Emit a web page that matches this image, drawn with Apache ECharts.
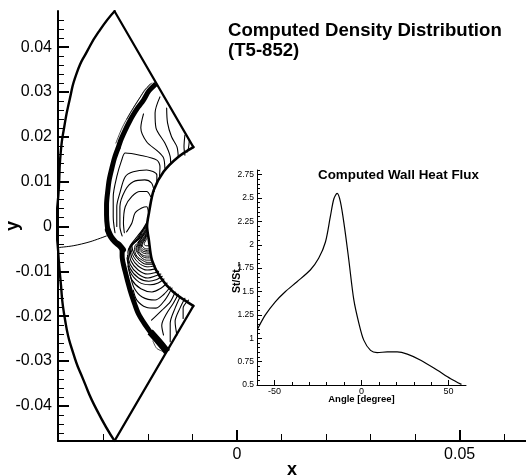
<!DOCTYPE html>
<html>
<head>
<meta charset="utf-8">
<style>html,body{margin:0;padding:0;background:#fff}#c{width:526px;height:476px}</style>
<script src="https://cdn.jsdelivr.net/npm/echarts@6/dist/echarts.min.js"></script>
</head>
<body>
<div id="c"></div>
<script>
// Density plot values are in thousandths of the x / y axis units.
const outerBoundary = [[-27.5,48],[-30.8,43.8],[-33.7,39],[-36,34.2],[-37.6,28.2],[-38.8,22.2],[-39.6,16.4],[-40,8.8],[-40.5,0],[-40.2,-5],[-39.7,-11.3],[-38.6,-20.9],[-36.8,-28.2],[-34.5,-34.2],[-31.5,-40.9],[-27.5,-47.8]];
const outletUpper = [[-27.5,48],[-9.8,17.7]];
const outletLower = [[-9.8,-17.7],[-27.5,-47.8]];
const wall = [[-9.8,17.7],[-13.2,15.5],[-16.5,12.2],[-18.7,8.1],[-19.8,2.9],[-20.2,0.1],[-19.8,-3],[-19.1,-7.5],[-17.3,-11.2],[-14.3,-14.6],[-9.8,-17.7]];
const shockUpper = [[-18.2,31.8],[-19.8,30.2],[-21,28.2],[-22.2,26.6],[-23.3,24.9],[-24.2,23.3],[-25.1,21.5],[-26,19.5],[-26.7,17.5]];
const shockMiddle = [[-26.7,17.5],[-27.5,15.3],[-28.1,13],[-28.7,10.4],[-29,8.1],[-29.3,4.8],[-29.3,2.6],[-29.1,-0.1],[-28.7,-1.7]];
const shockKink = [[-29,-0.8],[-28.3,-2.3],[-27.4,-3.4],[-26.3,-4.3],[-25.6,-5.2]];
const shockLower = [[-25.8,-5.2],[-25.8,-6.6],[-25.1,-10.1],[-24,-14.2],[-22.9,-17.5],[-22.2,-19.3],[-20.9,-21.5],[-19.5,-23.5]];
const shockEnd = [[-19.5,-23.5],[-17.7,-25.5],[-16.2,-27.3],[-15.7,-28]];
const shockFringe = [
  [[-19.1,32],[-20.7,30.5],[-21.8,28.7],[-24,25.3],[-25.8,22],[-27.2,18.6]],
  [[-19.5,31.8],[-21.1,29.8],[-22.9,27.1],[-24.7,24]],
  [[-18.9,-25.5],[-18,-27.2],[-16.2,-28]]
];
const streamLine = [[-40.2,-4.7],[-36.8,-4.3],[-33,-3.4],[-29.3,-2.1]];
const upperContours = [
  [[-15.8,26.4],[-15.6,23.1],[-14.7,20],[-13.5,17.8],[-13.2,15.7]],
  [[-17.3,28.9],[-18.4,25.3],[-18.2,22],[-16.2,18.6],[-15,15.6],[-14.9,14.2]],
  [[-21,25.1],[-21.6,22],[-20.3,18.9],[-17.7,16.7],[-16.5,15.3],[-16.2,13]],
  [[-11.7,20.4],[-11.9,17.8],[-11.7,15.9]],
  [[-10.7,19.3],[-10.9,17.5],[-11.2,16.6]],
  [[-27.4,-1.4],[-27.8,2.2],[-27.8,6.6],[-27,11.1],[-25.9,14.8],[-25.1,16.4],[-21.8,15.9],[-18,14.8],[-17.3,13.3],[-17.4,11.1]],
  [[-27,0],[-27,4.4],[-26.3,7.5],[-25.1,11.1],[-23.3,12.2],[-20.3,12.6],[-18,11.5],[-18,9.7]],
  [[-25.8,-2.1],[-26.3,0],[-26.3,4.4],[-25.1,8.1],[-23.3,10],[-20.7,10.4],[-19.2,9.7],[-18.6,7.8]],
  [[-25.3,-1.4],[-25.5,0.8],[-25.1,4.4],[-23.6,6.7],[-21.8,7.8],[-20.3,7.8],[-19.4,6.7]],
  [[-24.8,-1.2],[-23.6,0.8],[-22.9,3],[-21.4,4.1],[-20.3,4.4],[-19.9,3.2]]
];
const fanContours = [
  [[-20.2,-0.8],[-21.1,-2.1],[-22.2,-3.7],[-22.7,-5],[-21.8,-6.6],[-20.4,-7.5],[-19.1,-7.5]],
  [[-20.2,-1],[-21.2,-2.3],[-22.1,-3.8],[-22.5,-5],[-21.7,-6.3],[-20.4,-7],[-19.2,-7]],
  [[-20.2,-1.2],[-21.1,-2.6],[-22,-3.9],[-22.2,-5],[-21.6,-6.1],[-20.4,-6.6],[-19.3,-6.6]],
  [[-20.2,-1.45],[-21,-2.7],[-21.8,-3.9],[-22,-4.9],[-21.3,-5.8],[-20.3,-6.1],[-19.4,-6.1]],
  [[-20.2,-1.7],[-20.9,-2.8],[-21.6,-3.9],[-21.8,-4.8],[-21.1,-5.5],[-20.2,-5.7],[-19.5,-5.7]],
  [[-20.2,-1.9],[-20.8,-2.9],[-21.4,-4],[-21.5,-4.7],[-20.8,-5.2],[-20.2,-5.4],[-19.7,-5.4]],
  [[-20.2,-2.1],[-20.7,-3],[-21.3,-4.1],[-21.1,-4.6],[-20.4,-5],[-19.8,-5]],
  [[-20.2,-2.6],[-20.7,-3.5],[-20.9,-3.9],[-20.4,-4.3],[-19.8,-4.3]],
  [[-20.2,0],[-21.3,-1.6],[-22.4,-3.1],[-23.3,-3.9],[-23.8,-4.8],[-23.3,-6.6],[-22,-8.2],[-20.2,-9],[-18.4,-8.8]],
  [[-20.2,-0.6],[-21.1,-1.9],[-22.2,-3.5],[-22.9,-4.3],[-23,-5.2],[-22.5,-6.6],[-21.3,-7.5],[-20.2,-8],[-18.9,-8]]
];
const lowerContours = [
  [[-23.3,-14.2],[-22.5,-16.4],[-20.4,-18],[-18.2,-18.2],[-16.2,-16.4],[-14.6,-13.7]],
  [[-24,-10.8],[-23.1,-13.7],[-21.3,-15.7],[-18.4,-16.4],[-16.4,-15.1],[-15,-13.5]],
  [[-24.5,-8.8],[-23.6,-11.9],[-21.6,-13.9],[-19.1,-14.6],[-17.3,-13.9],[-15.7,-12.6]],
  [[-24.7,-7],[-24,-10.1],[-22,-12.4],[-19.5,-13],[-17.7,-12.6],[-16.4,-11.7]],
  [[-24.6,-6.4],[-24,-9.3],[-22.1,-11.5],[-19.8,-12.2],[-18,-11.8],[-16.8,-11.1]],
  [[-20.2,1],[-21.3,-0.8],[-22.7,-2.6],[-24,-4.3],[-24.5,-5.7],[-24,-8.4],[-22.2,-10.6],[-20,-11.5],[-18.2,-11],[-17.1,-10.6]],
  [[-20.2,0.7],[-21.3,-1],[-22.5,-2.8],[-23.8,-4.2],[-24.2,-5.2],[-23.8,-7.7],[-22.2,-9.7],[-20.1,-10.6],[-18.4,-10.3],[-17.6,-10]],
  [[-20.2,0.3],[-21.3,-1.2],[-22.4,-3],[-23.6,-4.1],[-24,-4.8],[-23.6,-7],[-22.2,-8.8],[-20.2,-9.7],[-18.6,-9.5],[-18.2,-9.3]],
  [[-20.2,-0.3],[-21.1,-1.7],[-22.2,-3],[-23.1,-3.7],[-23.6,-4.3],[-23.1,-6.1],[-22,-7.5],[-20.4,-8.4],[-18.9,-8.4]],
  [[-19.2,-20.9],[-16.9,-18.7],[-15,-16.8],[-13.9,-14.6]],
  [[-16.5,-24.2],[-16.9,-22],[-15.8,-19.4],[-14.3,-17.1],[-13.2,-15.1]],
  [[-15,-25.7],[-15,-21.6],[-13.9,-18.2],[-12.8,-15.7]],
  [[-13.5,-24.2],[-13.9,-21.2],[-12.8,-18.2],[-11.7,-16]],
  [[-12.1,-20.5],[-12.1,-18.2],[-10.9,-16.4]]
];
const heatFluxAngle = [-59.5,-55.3,-49.5,-43.8,-37,-29.4,-24.6,-20.7,-17.9,-15.9,-14,-12.1,-9.8,-7.3,-4.4,-1.5,1.3,5.2,9,14.8,20.5,26.3,34,43.6,51.2,57.4];
const heatFluxValue = [1.104,1.247,1.39,1.498,1.605,1.73,1.855,2.03,2.3,2.49,2.55,2.46,2.195,1.84,1.41,1.16,0.98,0.87,0.847,0.854,0.854,0.83,0.765,0.657,0.568,0.507];

const xMajorTicks = [0,0.05];
const xMinorTicks = [-0.03,-0.02,-0.01,0.01,0.02,0.03,0.04,0.06];
const yMajorTicks = [-0.04,-0.03,-0.02,-0.01,0,0.01,0.02,0.03,0.04];
const yMinorTicks = [-0.046,-0.044,-0.042,-0.038,-0.036,-0.034,-0.032,-0.028,-0.026,-0.024,-0.022,-0.018,-0.016,-0.014,-0.012,-0.008,-0.006,-0.004,-0.002,0.002,0.004,0.006,0.008,0.012,0.014,0.016,0.018,0.022,0.024,0.026,0.028,0.032,0.034,0.036,0.038,0.042,0.044,0.046];
const angleMajorTicks = [-50,0,50];
const angleMinorTicks = [-40,-30,-20,-10,10,20,30,40];
const ratioMajorTicks = [0.5,0.75,1,1.25,1.5,1.75,2,2.25,2.5,2.75];
const ratioMinorTicks = [0.55,0.6,0.65,0.7,0.8,0.85,0.9,0.95,1.05,1.1,1.15,1.2,1.3,1.35,1.4,1.45,1.55,1.6,1.65,1.7,1.8,1.85,1.9,1.95,2.05,2.1,2.15,2.2,2.3,2.35,2.4,2.45,2.55,2.6,2.65,2.7,2.8];

const FONT = '"Liberation Sans", Arial, sans-serif';
const X_RANGE = {min:-0.0402, max:0.0649};
const Y_RANGE = {min:-0.04783, max:0.04805};
const ANGLE_RANGE = {min:-60, max:60};
const RATIO_RANGE = {min:0.5, max:2.8};

const toUnits = pts => pts.map(p => [p[0]/1000, p[1]/1000]);
const densityLine = (pts, width, smooth, cap) => ({
  type:'line', xAxisIndex:0, yAxisIndex:0, data:toUnits(pts), showSymbol:false, silent:true,
  clip:true, smooth:smooth === undefined ? 0.3 : smooth,
  lineStyle:{color:'#000', width:width, cap:cap||'round', join:'round'}
});
const fmt = v => String(Math.round(v*1000)/1000);

const axisBase = (position, gridIndex, range, values, len, lineW, tickW, fontSize, margin, showLine) => ({
  type:'value', position, gridIndex, min:range.min, max:range.max, splitLine:{show:false},
  axisLine:{show:showLine, onZero:false, lineStyle:{color:'#000', width:lineW}},
  axisTick:{show:true, inside:true, length:len, customValues:values, lineStyle:{color:'#000', width:tickW}},
  axisLabel:{show:fontSize>0, customValues:values, margin, color:'#000', fontFamily:FONT, fontSize:fontSize||10, formatter:fmt, showMinLabel:true, showMaxLabel:true, hideOverlap:false},
  nameMoveOverlap:false
});

const option = {
  backgroundColor:'#fff', animation:false,
  title:[
    {text:'Computed Density Distribution\n(T5-852)', left:228, top:21, padding:0,
     textStyle:{fontFamily:FONT, fontWeight:'bold', fontSize:18.6, lineHeight:19.6, color:'#000'}},
    {text:'Computed Wall Heat Flux', left:318, top:169, padding:0,
     textStyle:{fontFamily:FONT, fontWeight:'bold', fontSize:13.4, color:'#000'}}
  ],
  grid:[
    {left:58, top:11, width:468, height:430, outerBoundsMode:'none', containLabel:false},
    {left:257, top:170, width:209, height:215, outerBoundsMode:'none', containLabel:false}
  ],
  xAxis:[
    Object.assign(axisBase('bottom',0, X_RANGE, xMajorTicks, 11, 2, 2, 16, 6, true), {name:'x', nameLocation:'middle', nameGap:20, nameTextStyle:{fontFamily:FONT, fontWeight:'bold', fontSize:18, color:'#000'}}),
    axisBase('bottom',0, X_RANGE, xMinorTicks, 7, 2, 1, 0, 0, false),
    Object.assign(axisBase('bottom',1, ANGLE_RANGE, angleMajorTicks, 5, 1, 1, 9, 2, true), {name:'Angle [degree]', nameLocation:'middle', nameGap:9, nameTextStyle:{fontFamily:FONT, fontWeight:'bold', fontSize:9.5, color:'#000'}}),
    axisBase('bottom',1, ANGLE_RANGE, angleMinorTicks, 3, 1, 1, 0, 0, false)
  ],
  yAxis:[
    Object.assign(axisBase('left',0, Y_RANGE, yMajorTicks, 11, 2, 2, 16, 6, true), {name:'y', nameLocation:'middle', nameGap:36, nameTextStyle:{fontFamily:FONT, fontWeight:'bold', fontSize:18, color:'#000'}}),
    axisBase('left',0, Y_RANGE, yMinorTicks, 6, 2, 1, 0, 0, false),
    Object.assign(axisBase('left',1, RATIO_RANGE, ratioMajorTicks, 5, 1, 1, 8.5, 3, true), {name:'{a|St/St}{b|-\u221E}', nameLocation:'middle', nameGap:14.5,
      nameTextStyle:{rich:{a:{fontFamily:FONT, fontWeight:'bold', fontSize:10.5, color:'#000'}, b:{fontFamily:FONT, fontWeight:'bold', fontSize:7, color:'#000', verticalAlign:'bottom'}}}}),
    axisBase('left',1, RATIO_RANGE, ratioMinorTicks, 3, 1, 1, 0, 0, false)
  ],
  series:[
    densityLine(outerBoundary, 2.4, 0.6),
    densityLine(outletUpper, 2.2, false),
    densityLine(outletLower, 2.2, false),
    densityLine(wall, 2.6),
    densityLine(shockUpper, 5, 0.3, 'butt'),
    densityLine(shockMiddle, 5),
    densityLine(shockKink, 6),
    densityLine(shockLower, 5),
    densityLine(shockEnd, 7, 0.3, 'butt'),
    densityLine(streamLine, 1),
    ...shockFringe.map(c => densityLine(c, 0.7)),
    ...upperContours.map(c => densityLine(c, 1.1)),
    ...fanContours.map(c => densityLine(c, 1)),
    ...lowerContours.map(c => densityLine(c, 1.1)),
    {type:'line', xAxisIndex:2, yAxisIndex:2, data:heatFluxAngle.map((a,i)=>[a,heatFluxValue[i]]), showSymbol:false, silent:true, smooth:0.3, clip:true, lineStyle:{color:'#000', width:1.2}}
  ]
};
const chart = echarts.init(document.getElementById('c'), null, {renderer:'canvas', width:526, height:476});
chart.setOption(option);
</script>
</body>
</html>
